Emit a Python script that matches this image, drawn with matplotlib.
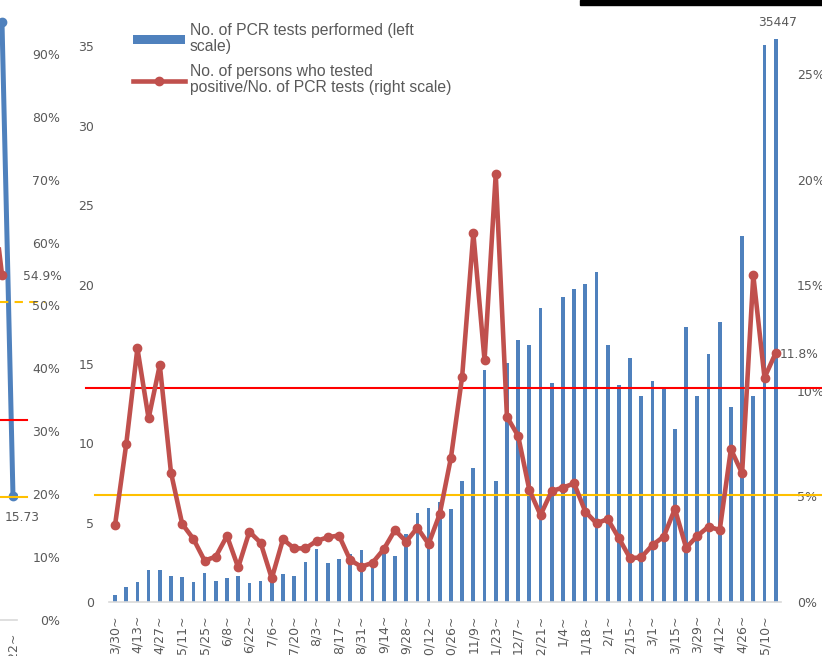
import matplotlib
matplotlib.use("Agg")
import matplotlib.pyplot as plt
from matplotlib.patches import Rectangle, Patch
from matplotlib.lines import Line2D

# week labels (every other week is labelled)
week_labels = ["3/30~", "4/13~", "4/27~", "5/11~", "5/25~", "6/8~", "6/22~", "7/6~",
               "7/20~", "8/3~", "8/17~", "8/31~", "9/14~", "9/28~", "10/12~", "10/26~",
               "11/9~", "11/23~", "12/7~", "12/21~", "1/4~", "1/18~", "2/1~", "2/15~",
               "3/1~", "3/15~", "3/29~", "4/12~", "4/26~", "5/10~"]

# No. of PCR tests performed (thousands, left scale)
tests = [0.42, 0.93, 1.27, 2.04, 2.04, 1.66, 1.56, 1.28, 1.83, 1.35,
         1.52, 1.62, 1.22, 1.31, 1.45, 1.79, 1.62, 2.53, 3.37, 2.46,
         2.72, 3.05, 3.27, 2.60, 3.40, 2.89, 4.28, 5.58, 5.90, 6.32,
         5.83, 7.62, 8.42, 14.60, 7.64, 15.06, 16.50, 16.20, 18.50, 13.80,
         19.20, 19.70, 20.05, 20.80, 16.20, 13.67, 15.35, 13.00, 13.94, 13.47,
         10.93, 17.30, 13.00, 15.60, 17.65, 12.30, 23.08, 12.97, 35.10, 35.447]

# positives / tests (%, right scale)
positivity = [3.63, 7.47, 12.02, 8.70, 11.23, 6.13, 3.70, 2.99, 1.96, 2.15,
              3.13, 1.64, 3.33, 2.81, 1.12, 2.97, 2.54, 2.54, 2.89, 3.07,
              3.15, 1.99, 1.67, 1.86, 2.50, 3.41, 2.86, 3.52, 2.75, 4.17,
              6.84, 10.68, 17.47, 11.45, 20.27, 8.78, 7.87, 5.31, 4.12, 5.26,
              5.42, 5.62, 4.28, 3.73, 3.93, 3.02, 2.07, 2.12, 2.70, 3.10,
              4.41, 2.57, 3.13, 3.57, 3.41, 7.24, 6.10, 15.48, 10.63, 11.80]

red_ref = 10.12
orange_ref = 5.07

# the neighbouring chart cut off at the left edge
prev_x_tests = [8, 9]
prev_tests = [76.0, 15.73]
prev_x_pos = [7, 8]
prev_pos = [69.5, 54.9]
prev_tick = "3/22~"
prev_refs = [(31.8, "#FF0000", "-", 27), (19.6, "#FFC000", "-", 27), (50.6, "#FFC000", (0, (4, 3)), 45)]

BLUE = "#4F81BD"
RED = "#C0504D"
GRAY = "#595959"
W, H = 822, 656


def px_box(x0, y0, x1, y1):
    # pixel box, y measured from the top
    return [x0 / W, 1 - y1 / H, (x1 - x0) / W, (y1 - y0) / H]


fig = plt.figure(figsize=(W / 100, H / 100), dpi=100)

# ---- main chart ----
ax = fig.add_axes(px_box(109.4, 36, 781.3, 602))
xs = list(range(len(tests)))
ax.bar(xs, tests, width=0.33, color=BLUE, zorder=2)
ax.set_xlim(-0.5, len(tests) - 0.5)
ax.set_ylim(0, 35.66)
ax.set_yticks(range(0, 36, 5))
ax.set_xticks(xs[::2])
ax.set_xticklabels(week_labels, rotation=90)
for s in ["top", "left", "right"]:
    ax.spines[s].set_visible(False)
ax.spines["bottom"].set_color("#D9D9D9")
ax.spines["bottom"].set_linewidth(1.2)
ax.tick_params(length=0, colors=GRAY, labelsize=9)
ax.tick_params(axis="y", pad=11)
ax.tick_params(axis="x", pad=9.4)
ax.annotate(f"{tests[-1] * 1000:.0f}", (xs[-1], tests[-1]), xytext=(2, 10),
            textcoords="offset pixels", ha="center", va="bottom", color=GRAY, fontsize=8.8)

ax2 = ax.twinx()
ax2.set_ylim(0, 26.82)
ax2.set_yticks(range(0, 26, 5))
ax2.yaxis.set_major_formatter(lambda v, p: f"{v:.0f}%")
for s in ax2.spines.values():
    s.set_visible(False)
ax2.tick_params(length=0, colors=GRAY, labelsize=9, pad=11.3)
ax2.axhline(red_ref, xmin=-0.035, xmax=1.07, color="#FF0000", lw=1.5, clip_on=False, zorder=2)
ax2.axhline(orange_ref, xmin=-0.021, xmax=1.07, color="#FFC000", lw=1.5, clip_on=False, zorder=2)
ax2.plot(xs, positivity, color=RED, lw=3.3, marker="o", ms=6, zorder=3)
ax2.annotate(f"{positivity[-1]:.1f}%", (xs[-1], positivity[-1]), xytext=(4, -2),
             textcoords="offset pixels", ha="left", va="center", color=GRAY, fontsize=8.8)

# ---- left neighbouring chart ----
L0, L1 = -90, 17
lax = fig.add_axes(px_box(L0, 620 - 629, L1, 620))
lax.set_xlim(9 - (13 - L0) / 11, 9 + (L1 - 13) / 11)
lax.set_ylim(0, 80)
for s in ["top", "left", "right"]:
    lax.spines[s].set_visible(False)
lax.spines["bottom"].set_color("#D9D9D9")
lax.spines["bottom"].set_linewidth(1.2)
lax.set_yticks([])
lax.set_xticks([9])
lax.set_xticklabels([prev_tick], rotation=90)
lax.tick_params(length=0, colors=GRAY, labelsize=9, pad=9.4)
lax.plot(prev_x_tests, prev_tests, color=BLUE, lw=3.6, marker="o", ms=6, zorder=3)
lax.annotate(f"{prev_tests[-1]}", (prev_x_tests[-1], prev_tests[-1]), xytext=(9, -21),
             textcoords="offset pixels", ha="center", va="center", color=GRAY, fontsize=8.8)

lax2 = lax.twinx()
lax2.set_ylim(0, 100)
lax2.set_yticks(range(0, 91, 10))
lax2.yaxis.set_major_formatter(lambda v, p: f"{v:.0f}%")
for s in lax2.spines.values():
    s.set_visible(False)
lax2.tick_params(length=0, colors=GRAY, labelsize=9, pad=31)
for lab in lax2.get_yticklabels():
    lab.set_ha("right")
for yv, col, ls, xend in prev_refs:
    lax2.axhline(yv, xmin=(0 - L0) / (L1 - L0), xmax=(xend - L0) / (L1 - L0),
                 color=col, ls=ls, lw=1.5, clip_on=False, zorder=1)
lax2.plot(prev_x_pos, prev_pos, color=RED, lw=3.3, marker="o", ms=6, zorder=3)
lax2.annotate(f"{prev_pos[-1]}%", (prev_x_pos[-1], prev_pos[-1]), xytext=(21, -2),
              textcoords="offset pixels", ha="left", va="center", color=GRAY, fontsize=8.8)

# ---- legend ----
handles = [Patch(facecolor=BLUE, edgecolor="none"),
           Line2D([], [], color=RED, lw=3.3, marker="o", ms=6)]
labels = ["No. of PCR tests performed (left\nscale)",
          "No. of persons who tested\npositive/No. of PCR tests (right scale)"]
leg = fig.legend(handles, labels, loc="upper left", bbox_to_anchor=(133 / W, 1 - 23 / H),
                 frameon=False, prop={"family": "Liberation Sans", "size": 11.3},
                 handlelength=3.3, handleheight=0.5, handletextpad=0.3,
                 labelspacing=0.6, borderpad=0, borderaxespad=0, labelcolor=GRAY)
for t in leg.get_texts():
    t.set_linespacing(1.12)

# black strip at the top right of the screenshot
fig.patches.append(Rectangle((580 / W, 1 - 5 / H), 242 / W, 5 / H,
                             transform=fig.transFigure, color="black"))

fig.savefig("out.png", dpi=100)
